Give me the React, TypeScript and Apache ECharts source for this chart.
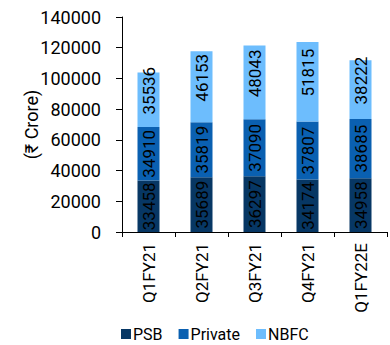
import React, { useEffect, useRef } from "react";
import * as echarts from "echarts";

const categories = ["Q1FY21", "Q2FY21", "Q3FY21", "Q4FY21", "Q1FY22E"];
const psb = [33458, 35689, 36297, 34174, 34958];
const privateBanks = [34910, 35819, 37090, 37807, 38685];
const nbfc = [35536, 46153, 48043, 51815, 38222];
const yTicks = { min: 0, max: 140000, interval: 20000 };

const FONT = "Roboto";

export default function App() {
  const ref = useRef<HTMLDivElement>(null);
  useEffect(() => {
    if (!ref.current) return;
    const chart = echarts.init(ref.current, null, { renderer: "svg" });
    const labelBase = {
      show: true,
      position: "inside",
      rotate: 90,
      color: "#000",
      fontFamily: FONT,
      fontSize: 17,
    };
    chart.setOption({
      animation: false,
      textStyle: { fontFamily: FONT },
      grid: { left: 122, right: 3, top: 17, bottom: 113, containLabel: false },
      legend: {
        left: 118,
        top: 323,
        padding: 3,
        itemWidth: 10,
        itemHeight: 10,
        itemGap: 16,
        icon: "rect",
        textStyle: { fontFamily: FONT, fontSize: 16, color: "#000", padding: [0, 0, 0, -3] },
        data: ["PSB", "Private", "NBFC"],
      },
      xAxis: {
        type: "category",
        data: categories,
        axisLine: { lineStyle: { color: "#000", width: 1 } },
        axisTick: { show: true, alignWithLabel: false, length: 5, lineStyle: { color: "#000" } },
        axisLabel: { rotate: 90, margin: 11, color: "#000", fontFamily: FONT, fontSize: 17 },
      },
      yAxis: {
        type: "value",
        min: yTicks.min,
        max: yTicks.max,
        interval: yTicks.interval,
        name: "(₹ Crore)",
        nameLocation: "middle",
        nameGap: 82,
        nameMoveOverlap: false,
        nameTextStyle: { color: "#000", fontFamily: FONT, fontSize: 18 },
        axisLine: { show: true, lineStyle: { color: "#000", width: 1 } },
        axisTick: { show: true, length: 6, lineStyle: { color: "#000" } },
        splitLine: { show: false },
        axisLabel: {
          color: "#000",
          fontFamily: FONT,
          fontSize: 18,
          margin: 21,
          formatter: (v: number) => String(v),
        },
      },
      series: [
        {
          name: "PSB",
          type: "bar",
          stack: "total",
          barWidth: 22,
          data: psb,
          itemStyle: { color: "#073764" },
          label: { ...labelBase },
        },
        {
          name: "Private",
          type: "bar",
          stack: "total",
          barWidth: 22,
          data: privateBanks,
          itemStyle: { color: "#0A60B1" },
          label: { ...labelBase },
        },
        {
          name: "NBFC",
          type: "bar",
          stack: "total",
          barWidth: 22,
          data: nbfc,
          itemStyle: { color: "#6DBDFD" },
          label: { ...labelBase, offset: [9, 0] },
        },
      ],
    });
    return () => chart.dispose();
  }, []);
  return <div ref={ref} style={{ width: 390, height: 345, position: "absolute", left: 0, top: 0 }} />;
}
